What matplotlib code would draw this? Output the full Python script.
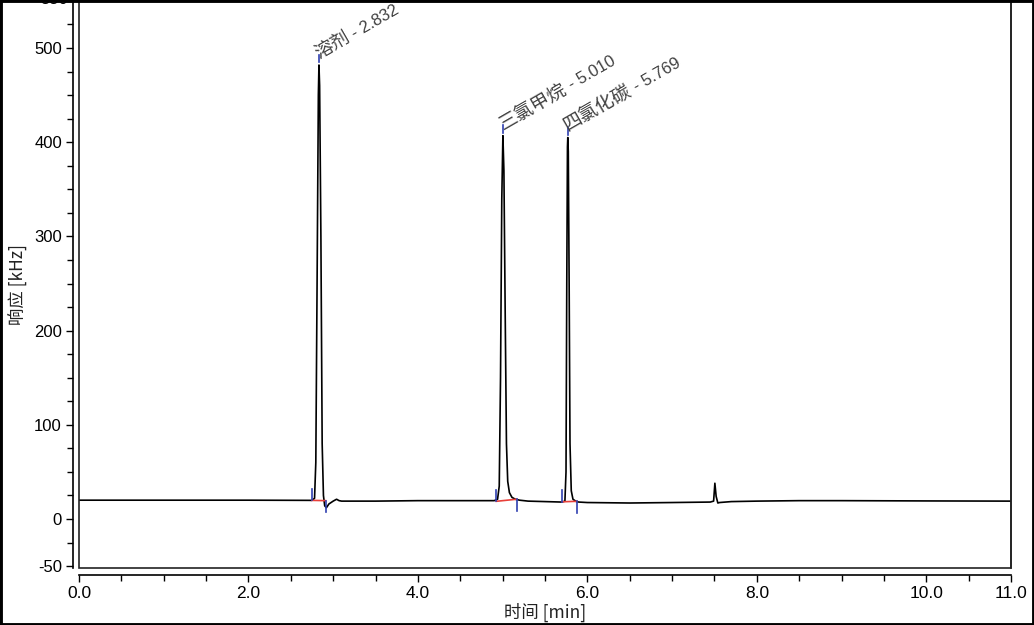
import math
import matplotlib
matplotlib.use("Agg")
import matplotlib.pyplot as plt
from matplotlib.patches import Rectangle
from matplotlib.ticker import MultipleLocator, FixedLocator
import matplotlib.font_manager as fm

# ---------------- data ----------------
time_min = [0.00, 1.00, 2.00, 2.75, 2.78, 2.795, 2.81, 2.825, 2.832, 2.84, 2.855,
            2.87, 2.885, 2.90, 2.92, 2.95, 3.00, 3.04, 3.07, 3.10, 3.50, 4.00,
            4.50, 4.90, 4.94, 4.96, 4.975, 4.99, 5.003, 5.015, 5.03, 5.045,
            5.06, 5.08, 5.11, 5.15, 5.20, 5.30, 5.50, 5.70, 5.735, 5.748,
            5.757, 5.765, 5.769, 5.775, 5.785, 5.795, 5.81, 5.83, 5.87, 5.90,
            6.00, 6.50, 7.00, 7.45, 7.49, 7.505, 7.52, 7.54, 7.56, 7.60, 7.70,
            8.00, 8.50, 9.00, 10.00, 11.00]
response_khz = [20.0, 20.0, 20.0, 19.8, 22.0, 60.0, 250.0, 450.0, 482.0, 460.0, 300.0,
                80.0, 25.0, 14.0, 12.0, 16.0, 19.0, 21.0, 19.5, 19.0, 19.0, 19.5,
                19.5, 19.5, 21.0, 35.0, 150.0, 340.0, 407.0, 370.0, 220.0, 80.0,
                40.0, 28.0, 23.0, 21.0, 20.0, 19.0, 18.5, 18.0, 19.0, 50.0,
                250.0, 395.0, 405.0, 390.0, 250.0, 80.0, 30.0, 21.0, 18.5, 18.0,
                17.5, 17.0, 17.5, 18.0, 19.0, 38.0, 24.0, 17.0, 17.5, 17.8, 18.5,
                19.0, 19.5, 19.5, 19.2, 19.0]

peak_names = ["溶剂", "三氯甲烷", "四氯化碳"]
peak_rt = [2.832, 5.010, 5.769]
peak_apex = [482.0, 407.0, 405.0]
peak_start = [2.75, 4.925, 5.705]
peak_end = [2.91, 5.165, 5.875]
base_start = [19.8, 18.8, 18.3]
base_end = [19.5, 21.0, 18.8]

x_ticks = [0.0, 2.0, 4.0, 6.0, 8.0, 10.0, 11.0]
x_ticklabels = ["0.0", "2.0", "4.0", "6.0", "8.0", "10.0", "11.0"]
y_ticks = [-50, 0, 100, 200, 300, 400, 500]
y_ticklabels = ["-50", "0", "100", "200", "300", "400", "500"]
x_label = "时间 [min]"
y_label = "响应 [kHz]"

# ---------------- fonts ----------------
available = {f.name for f in fm.fontManager.ttflist}
narrow = "Liberation Sans Narrow" if "Liberation Sans Narrow" in available else "Liberation Sans"
num_font = ["Liberation Sans", "DejaVu Sans"]
cjk_font = ["Noto Sans CJK SC", "Liberation Sans", "DejaVu Sans"]
cjk_narrow = ["Noto Sans CJK SC", narrow, "DejaVu Sans"]
plt.rcParams["font.family"] = num_font

# ---------------- figure ----------------
W, H = 1034, 625
DPI = 100
fig = plt.figure(figsize=(W / DPI, H / DPI), dpi=DPI)
ax = fig.add_axes([79 / W, 1 - 568 / H, (1011 - 79) / W, 568 / H])

ax.plot(time_min, response_khz, color="black", lw=1.2, zorder=3)

ax.set_xlim(0, 11)
ax.set_ylim(-52, 551)

blue = "#2f3fb0"
red = "#e8403a"
label_color = "#404040"
renderer = fig.canvas.get_renderer()
ang = 30.0
for name, rt, ap, s, e, bs, be in zip(peak_names, peak_rt, peak_apex, peak_start,
                                      peak_end, base_start, base_end):
    ax.plot([s, e], [bs, be], color=red, lw=1.2, zorder=3.5)
    ax.plot([s, s], [bs, bs + 12], color=blue, lw=1.2, zorder=4)
    ax.plot([e, e], [be, be - 12], color=blue, lw=1.2, zorder=4)
    ax.plot([rt, rt], [ap + 3, ap + 11], color=blue, lw=1.2, zorder=4)
    # name (CJK) followed by the retention time
    kw = dict(rotation=ang, rotation_mode="anchor", ha="left", va="baseline",
              color=label_color, zorder=5)
    x0, y0 = rt, ap + 6
    ax.text(x0, y0, name, fontsize=13.5, family=cjk_font, weight="light", **kw)
    tmp = ax.text(x0, y0, name, fontsize=13.5, family=cjk_font, weight="light",
                  ha="left", va="baseline")
    w_px = tmp.get_window_extent(renderer).width
    tmp.remove()
    dx = w_px * math.cos(math.radians(ang)) * 72 / DPI
    dy = w_px * math.sin(math.radians(ang)) * 72 / DPI
    ax.annotate(f" - {rt:.3f}", xy=(x0, y0), xycoords="data", xytext=(dx, dy),
                textcoords="offset points", fontsize=12, family=num_font, **kw)

# spines: left & bottom offset outward, box drawn separately
for side in ("top", "right"):
    ax.spines[side].set_linewidth(1.2)
    ax.spines[side].set_color("#222222")
ax.spines["left"].set_position(("outward", 4.3))
ax.spines["bottom"].set_position(("outward", 5.0))
ax.spines["left"].set_linewidth(1.2)
ax.spines["bottom"].set_linewidth(1.2)
ax.add_patch(Rectangle((0, 0), 1, 1, transform=ax.transAxes, fill=False,
                       lw=1.2, edgecolor="#222222", clip_on=False, zorder=6))

ax.xaxis.set_major_locator(FixedLocator(x_ticks))
ax.set_xticklabels(x_ticklabels, family=[narrow, "DejaVu Sans"], fontsize=12.5)
ax.xaxis.set_minor_locator(MultipleLocator(0.5))
ax.yaxis.set_major_locator(FixedLocator(y_ticks))
ax.set_yticklabels(y_ticklabels, family=num_font, fontsize=12)
ax.yaxis.set_minor_locator(FixedLocator([v for v in range(-25, 551, 25) if v % 100 != 0]))
ax.tick_params(axis="both", which="major", direction="out", length=5, width=1.0, pad=3)
ax.tick_params(axis="both", which="minor", direction="out", length=4, width=1.0)

# partial top label cut by the frame
ax.text(-0.012, 1.0, "550", transform=ax.transAxes, ha="right", va="center",
        fontsize=12, family=num_font, clip_on=False)

ax.set_xlabel(x_label, family=cjk_narrow, fontsize=12.5, labelpad=1, color="#222222")
ax.set_ylabel(y_label, family=cjk_font, fontsize=12.5, labelpad=4, color="#222222")

# outer black frame
fig.patches.append(Rectangle((0, 0), 1, 1, transform=fig.transFigure, fill=False,
                             lw=3.5, edgecolor="black", zorder=10))

fig.savefig("out.png", dpi=DPI)
